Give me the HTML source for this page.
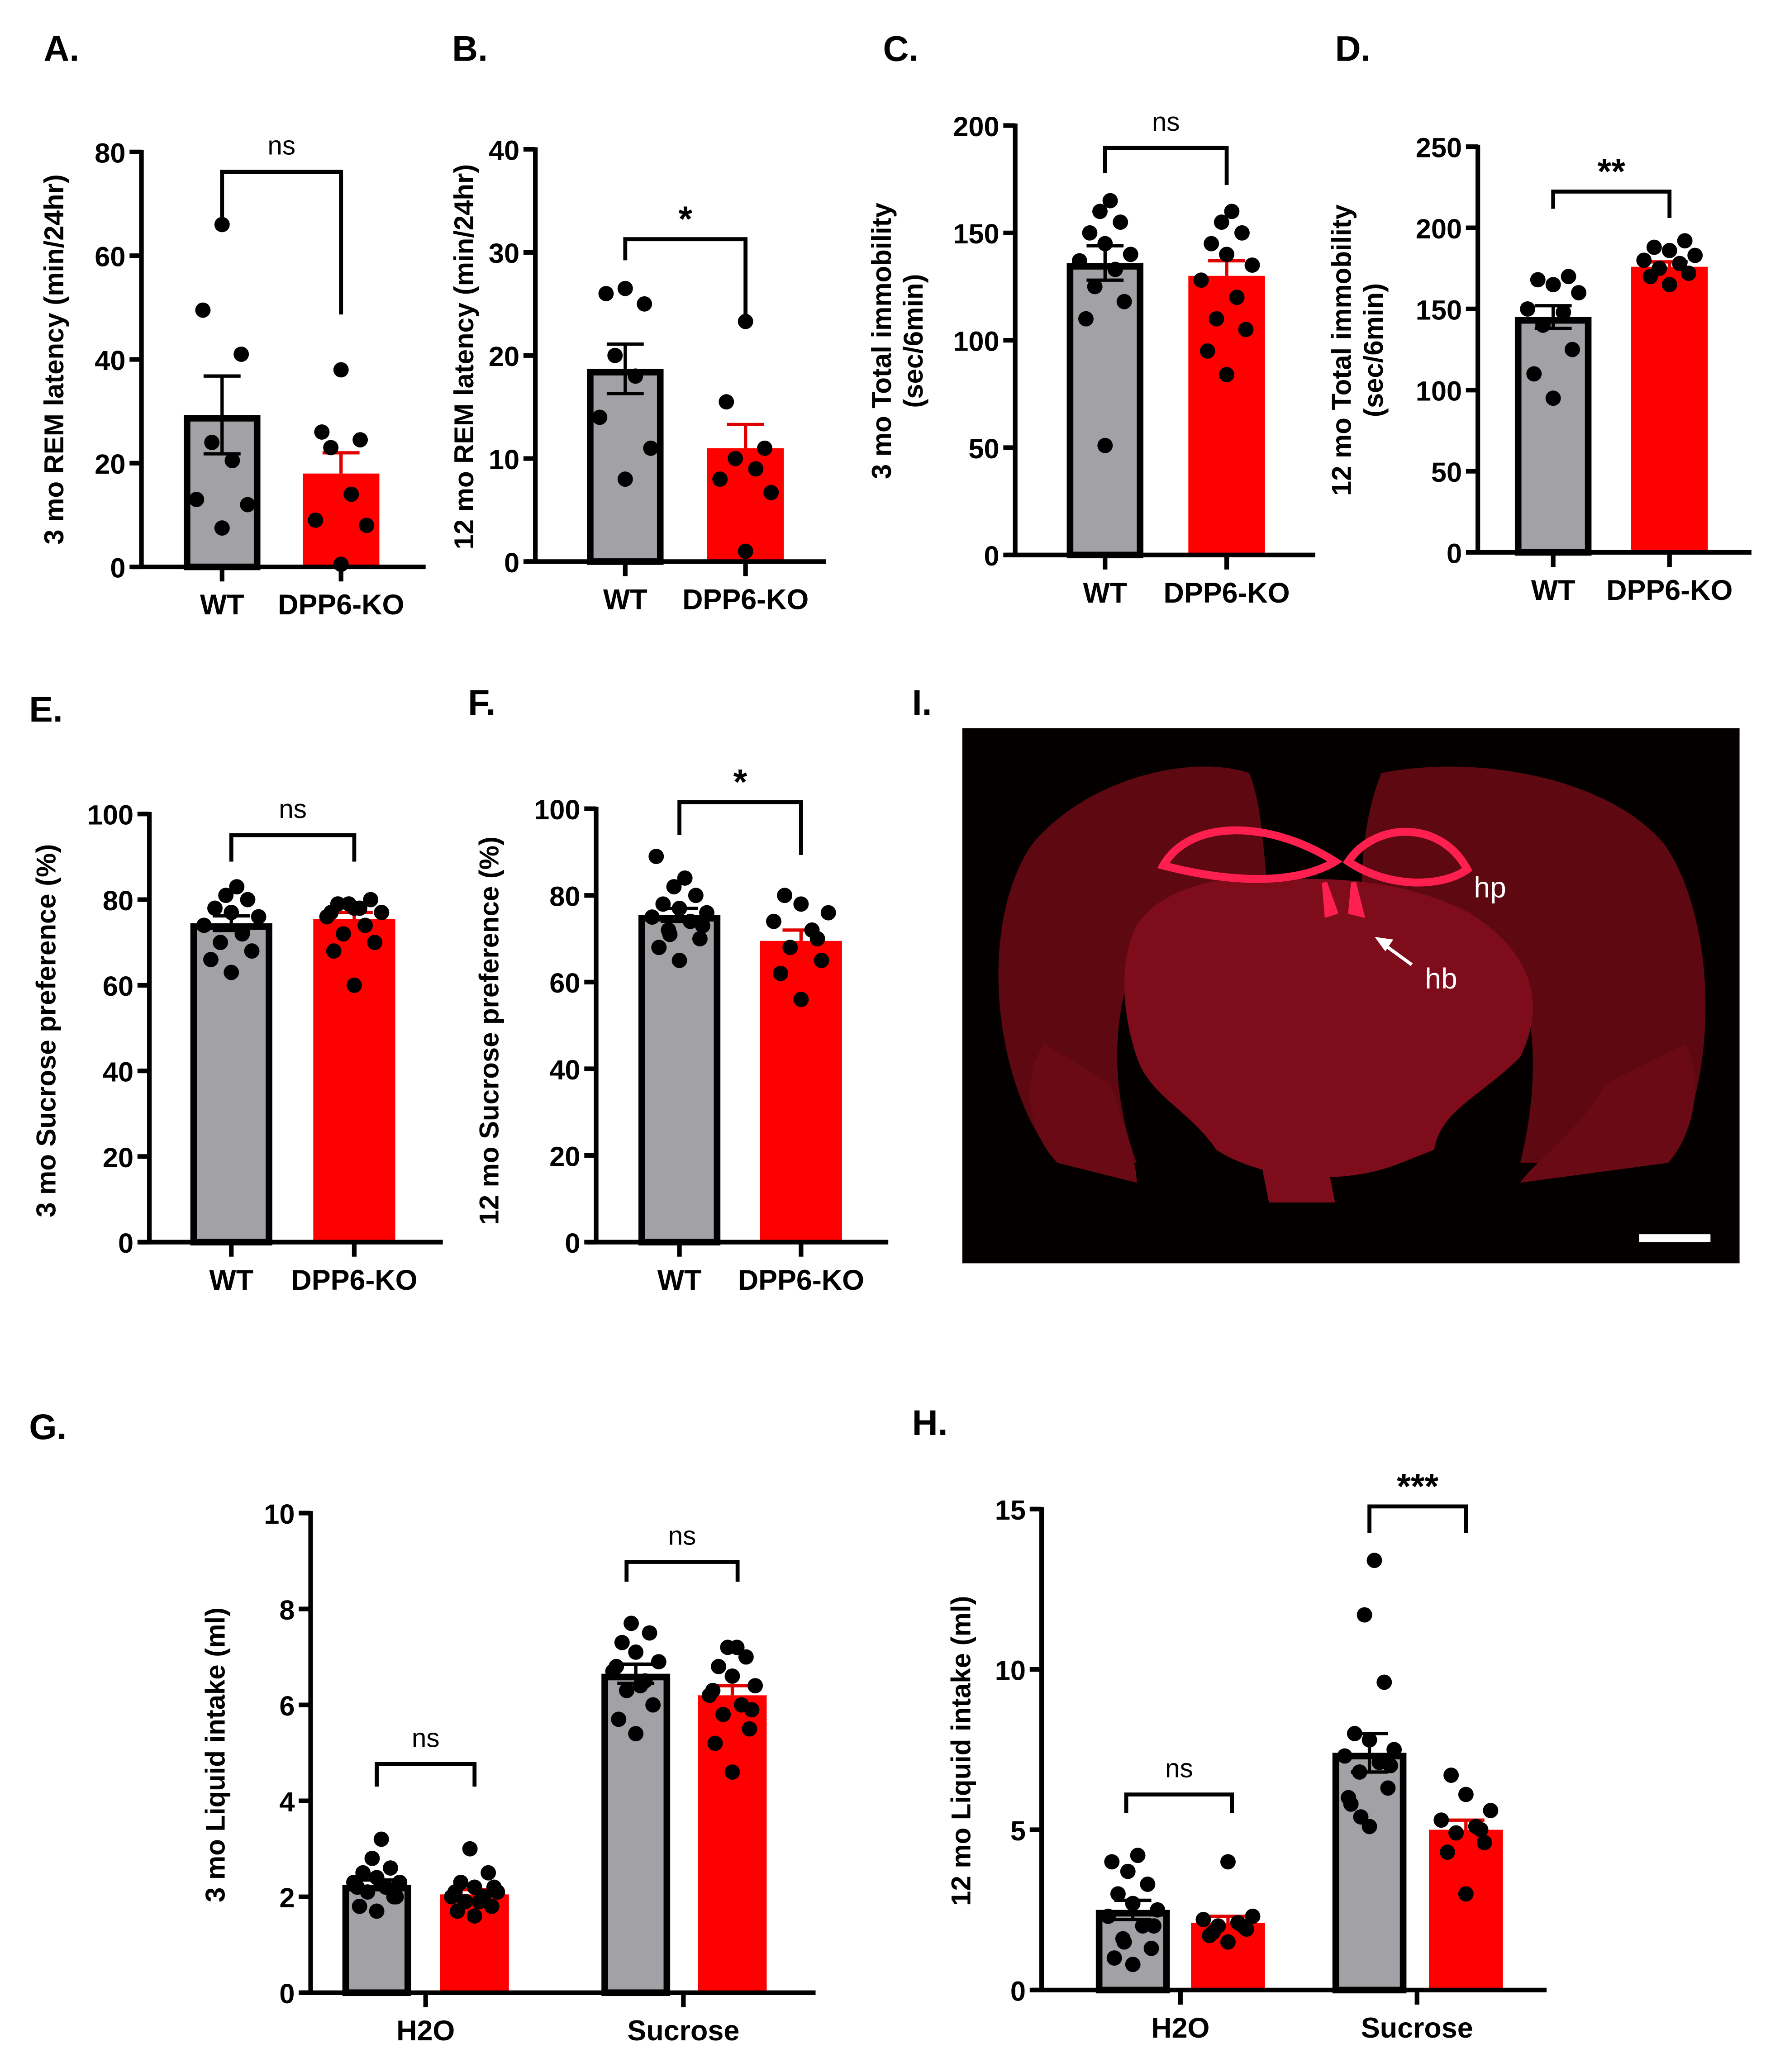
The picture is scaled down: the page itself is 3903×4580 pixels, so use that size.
<!DOCTYPE html>
<html><head><meta charset="utf-8"><style>
html,body{margin:0;padding:0;background:#fff}
svg{display:block}
text{font-family:"Liberation Sans",Arial,sans-serif}
</style></head><body>
<svg id="fig" xmlns="http://www.w3.org/2000/svg" width="3903" height="4580" viewBox="0 0 1336 1568" preserveAspectRatio="none">
<rect width="1336" height="1568" fill="#fff"/>
<g>
<rect x="728" y="551" width="588" height="405" fill="#050000"/>
<path d="M800,880 C750,820 740,700 780,640 C820,590 900,570 945,585 C955,610 955,640 960,680 L880,700 C850,720 830,800 860,880 Z" fill="#5e0812"/>
<path d="M1262,880 C1300,820 1300,700 1260,640 C1220,590 1120,570 1045,585 C1035,610 1030,640 1030,680 L1110,700 C1160,720 1170,800 1150,880 Z" fill="#5e0812"/>
<path d="M800,880 C780,860 770,820 790,790 L840,820 C850,850 860,880 860,895 Z" fill="#6a0a14"/>
<path d="M1262,880 C1280,860 1290,820 1275,790 L1215,820 C1200,850 1160,880 1150,895 Z" fill="#6a0a14"/>
<path d="M860,700 C880,670 930,660 975,665 C1010,665 1060,665 1110,690 C1160,720 1170,760 1150,800 C1120,830 1090,840 1085,870 L1060,880 C1010,900 950,890 920,870 C900,840 870,830 860,800 C850,770 845,730 860,700 Z" fill="#7e0c1a"/>
<path d="M950,860 L1000,860 L1010,910 L960,910 Z" fill="#7e0c1a"/>
<path d="M880,655 C900,620 960,620 1010,652 C980,670 930,668 880,655 Z" fill="none" stroke="#ff2050" stroke-width="6"/>
<path d="M1110,658 C1090,620 1040,622 1020,652 C1050,672 1090,672 1110,658 Z" fill="none" stroke="#ff2050" stroke-width="6"/>
<path d="M1002,668 L1010,690 L1004,692 Z M1024,668 L1030,692 L1022,690 Z" fill="#ff2050" stroke="#ff2050" stroke-width="4"/>
<text x="1115" y="679" fill="#fff" font-size="22">hp</text>
<text x="1078" y="748" fill="#fff" font-size="22">hb</text>
<line x1="1068" y1="730" x2="1046" y2="714" stroke="#fff" stroke-width="2.5"/>
<polygon points="1040,709 1054,711 1048,720" fill="#fff"/>
<rect x="1240" y="934" width="54" height="6" fill="#fff"/>
</g>
<g font-weight="bold" font-size="27">
<text x="33" y="46">A.</text><text x="342" y="46">B.</text><text x="668" y="46">C.</text><text x="1010" y="46">D.</text>
<text x="22" y="546">E.</text><text x="354" y="541">F.</text><text x="690" y="541">I.</text>
<text x="22" y="1089">G.</text><text x="690" y="1086">H.</text>
</g>
</svg>
<script>
const NS="http://www.w3.org/2000/svg";
const svg=document.getElementById('fig');
function mk(tag,attrs,parent,txt){const e=document.createElementNS(NS,tag);for(const k in attrs)e.setAttribute(k,attrs[k]);if(txt!==undefined)e.textContent=txt;(parent||svg).appendChild(e);return e;}

// ---- data ----
const groupsAB=["WT","DPP6-KO"];
const aWT=[66,49.5,41,24,20.5,13,12,7.5], aKO=[38,26,24.5,23,14,9,8,0.5];
const aMean=[29.3,18], aSem=[7.5,4];
const aTicks=[0,20,40,60,80];
const bWT=[26.5,26,25,20,18,14,11,8], bKO=[23.3,15.5,11,10,9,8,6.7,1];
const bMean=[18.7,11], bSem=[2.4,2.3];
const bTicks=[0,10,20,30,40];
const cWT=[51,110,118,125,133,137,140,145,150,155,160,165], cKO=[84,95,105,110,120,128,135,140,145,150,155,160];
const cMean=[136,130], cSem=[8,7];
const cTicks=[0,50,100,150,200];
const dWT=[95,110,125,140,148,150,160,165,168,170], dKO=[165,170,172,175,178,180,183,186,188,192];
const dMean=[145,176], dSem=[7,3];
const dTicks=[0,50,100,150,200,250];
const eWT=[63,66,68,70,72,74,76,77,78,80,81,83], eKO=[60,68,70,72,74,76,77,78,79,80,79,78,77];
const eMean=[74.5,75.5], eSem=[1.7,1.5];
const efTicks=[0,20,40,60,80,100];
const fWT=[65,68,70,72,74,75,76,77,78,80,82,84,89,73,71], fKO=[56,62,65,68,72,74,76,78,80,70];
const fMean=[75.5,69.5], fSem=[1.5,2.5];
const gCats=["H2O","Sucrose"];
const gH2OWT=[1.7,1.8,2.0,2.1,2.2,2.3,2.3,2.4,2.5,2.6,2.8,3.2,2.2,2.0], gH2OKO=[1.6,1.7,1.8,1.9,2.0,2.0,2.1,2.2,2.3,2.5,3.0,1.9,2.1,2.2];
const gSucWT=[5.4,5.7,6.0,6.3,6.5,6.7,6.9,7.1,7.3,7.5,7.7,6.4,6.8], gSucKO=[4.6,5.2,5.5,5.8,6.0,6.2,6.4,6.6,6.8,7.0,7.2,7.2,6.3,5.9];
const gMean=[2.25,2.05,6.65,6.2], gSem=[0.1,0.1,0.2,0.2];
const gTicks=[0,2,4,6,8,10];
const hH2OWT=[0.8,1.0,1.3,1.6,2.0,2.3,2.5,2.7,3.0,3.3,3.7,4.2,4.0,2.0,1.5], hH2OKO=[1.5,1.7,1.9,2.0,2.1,2.2,2.3,4.0,1.8,2.0];
const hSucWT=[5.1,5.8,6.3,6.8,7.1,7.3,7.5,7.8,8.0,9.6,11.7,13.4,6.0,7.0,5.4], hSucKO=[3.0,4.3,4.6,4.9,5.1,5.3,5.6,6.1,6.7,5.0];
const hMean=[2.5,2.1,7.4,5.0], hSem=[0.3,0.2,0.6,0.3];
const hTicks=[0,5,10,15];

function panel(p){
  const g=mk('g',{});
  
  
  const vmax=p.ticks[p.ticks.length-1];
  const y=v=>p.y0-(v/vmax)*(p.y0-p.yTop);
  p.bars.forEach((b,i)=>{
    const wt=b.wt;
    const r=mk('rect',{x:b.cx-p.bw/2+(wt?2.5:0),y:y(b.mean)+(wt?2.5:0),width:p.bw-(wt?5:0),height:p.y0-y(b.mean)-(wt?2.5:0),fill:wt?'#a2a2a6':'#ff0000',stroke:wt?'#000':'none','stroke-width':wt?5:0},g);
    
    
    const col=wt?'#000':'#e00000';
    const eb=mk('path',{d:`M${b.cx},${y(b.mean)} V${y(b.mean+b.sem)} M${b.cx-14},${y(b.mean+b.sem)} H${b.cx+14}`+(wt?` M${b.cx},${y(b.mean)} V${y(b.mean-b.sem)} M${b.cx-14},${y(b.mean-b.sem)} H${b.cx+14}`:''),stroke:col,'stroke-width':2.5,fill:'none'},g);
    
    
    const offs=[0,-15,15,-8,8,-20,20,0,-12,12,-4,4,-17,17,-7];
    b.pts.forEach((v,j)=>{
      const c=mk('circle',{cx:b.cx+offs[j%offs.length]*(p.bw/60),cy:y(v),r:5.8,fill:'#000'},g);
      
      
    });
  });
  const ax=mk('path',{d:`M${p.ax},${p.yTop-1.5} V${p.y0} M${p.ax-7},${p.y0} H${p.xEnd}`,stroke:'#000','stroke-width':3.5,fill:'none'},g);
  
  
  p.ticks.forEach(t=>{
    mk('line',{x1:p.ax-9,x2:p.ax,y1:y(t),y2:y(t),stroke:'#000','stroke-width':3.5},g);
    const tl=mk('text',{x:p.ax-12,y:y(t)+8,'text-anchor':'end','font-size':21,'font-weight':'bold'},g,String(t));
    
    
  });
  p.xlabels.forEach(l=>{
    mk('line',{x1:l.x,x2:l.x,y1:p.y0,y2:p.y0+11,stroke:'#000','stroke-width':3.5},g);
    const xl=mk('text',{x:l.x,y:p.y0+36,'text-anchor':'middle','font-size':21.5,'font-weight':'bold'},g,l.t);
    
    
  });
  const yt=mk('text',{transform:`translate(${p.tx},${p.ty}) rotate(-90)`,'text-anchor':'middle','font-size':20.5,'font-weight':'bold'},g);
  
  
  p.title.forEach((s,i)=>mk('tspan',{x:0,dy:i?24:0},yt,s));
  p.brackets.forEach(br=>{
    const bp=mk('path',{d:`M${br.x1},${br.d1} V${br.y} H${br.x2} V${br.d2}`,stroke:'#000','stroke-width':3,fill:'none'},g);
    
    
    const st=mk('text',{x:(br.x1+br.x2)/2,y:br.y-(br.t==='ns'?13:6),'text-anchor':'middle','font-size':br.t==='ns'?20:27,'font-weight':br.t==='ns'?'normal':'bold'},g,br.t);
    
    
  });
}
const two=(c1,c2,wt,ko,m,s)=>[{cx:c1,wt:true,key:'wt',pts:wt,mean:m[0],sem:s[0]},{cx:c2,wt:false,key:'ko',pts:ko,mean:m[1],sem:s[1]}];
const xl2=(c1,c2)=>[{x:c1,t:groupsAB[0]},{x:c2,t:groupsAB[1]}];

panel({name:'panel-a-chart',ax:107,y0:429,yTop:115,xEnd:322,bw:58,ticks:aTicks,bars:two(168,258,aWT,aKO,aMean,aSem),xlabels:xl2(168,258),tx:48,ty:272,title:['3 mo REM latency (min/24hr)'],brackets:[{x1:168,x2:258,y:130,d1:168,d2:238,t:'ns'}]});
panel({name:'panel-b-chart',ax:405,y0:425,yTop:113,xEnd:625,bw:58,ticks:bTicks,bars:two(473,564,bWT,bKO,bMean,bSem),xlabels:xl2(473,564),tx:358,ty:270,title:['12 mo REM latency (min/24hr)'],brackets:[{x1:473,x2:564,y:181,d1:197,d2:244,t:'*'}]});
panel({name:'panel-c-chart',ax:768,y0:420,yTop:95,xEnd:995,bw:58,ticks:cTicks,bars:two(836,928,cWT,cKO,cMean,cSem),xlabels:xl2(836,928),tx:674,ty:258,title:['3 mo Total immobility','(sec/6min)'],brackets:[{x1:836,x2:928,y:112,d1:131,d2:140,t:'ns'}]});
panel({name:'panel-d-chart',ax:1118,y0:418,yTop:111,xEnd:1325,bw:58,ticks:dTicks,bars:two(1175,1263,dWT,dKO,dMean,dSem),xlabels:xl2(1175,1263),tx:1022,ty:265,title:['12 mo Total immobility','(sec/6min)'],brackets:[{x1:1175,x2:1263,y:145,d1:158,d2:165,t:'**'}]});
panel({name:'panel-e-chart',ax:113,y0:940,yTop:616,xEnd:335,bw:62,ticks:efTicks,bars:two(175,268,eWT,eKO,eMean,eSem),xlabels:xl2(175,268),tx:42,ty:780,title:['3 mo Sucrose preference (%)'],brackets:[{x1:175,x2:268,y:632,d1:652,d2:652,t:'ns'}]});
panel({name:'panel-f-chart',ax:451,y0:940,yTop:612,xEnd:672,bw:62,ticks:efTicks,bars:two(514,606,fWT,fKO,fMean,fSem),xlabels:xl2(514,606),tx:377,ty:780,title:['12 mo Sucrose preference (%)'],brackets:[{x1:514,x2:606,y:607,d1:632,d2:647,t:'*'}]});
panel({name:'panel-g-chart',ax:235,y0:1508,yTop:1145,xEnd:617,bw:52,ticks:gTicks,
  bars:[{cx:285,wt:true,key:'h2o-wt',pts:gH2OWT,mean:gMean[0],sem:gSem[0]},{cx:359,wt:false,key:'h2o-ko',pts:gH2OKO,mean:gMean[1],sem:gSem[1]},{cx:481,wt:true,key:'sucrose-wt',pts:gSucWT,mean:gMean[2],sem:gSem[2]},{cx:554,wt:false,key:'sucrose-ko',pts:gSucKO,mean:gMean[3],sem:gSem[3]}],
  xlabels:[{x:322,t:gCats[0]},{x:517,t:gCats[1]}],tx:170,ty:1328,title:['3 mo Liquid intake (ml)'],
  brackets:[{x1:285,x2:359,y:1335,d1:1352,d2:1352,t:'ns'},{x1:474,x2:558,y:1182,d1:1197,d2:1197,t:'ns'}]});
panel({name:'panel-h-chart',ax:788,y0:1506,yTop:1142,xEnd:1170,bw:56,ticks:hTicks,
  bars:[{cx:857,wt:true,key:'h2o-wt',pts:hH2OWT,mean:hMean[0],sem:hSem[0]},{cx:929,wt:false,key:'h2o-ko',pts:hH2OKO,mean:hMean[1],sem:hSem[1]},{cx:1036,wt:true,key:'sucrose-wt',pts:hSucWT,mean:hMean[2],sem:hSem[2]},{cx:1109,wt:false,key:'sucrose-ko',pts:hSucKO,mean:hMean[3],sem:hSem[3]}],
  xlabels:[{x:893,t:gCats[0]},{x:1072,t:gCats[1]}],tx:734,ty:1325,title:['12 mo Liquid intake (ml)'],
  brackets:[{x1:852,x2:932,y:1358,d1:1372,d2:1372,t:'ns'},{x1:1036,x2:1109,y:1140,d1:1160,d2:1160,t:'***'}]});
</script>
</body></html>
